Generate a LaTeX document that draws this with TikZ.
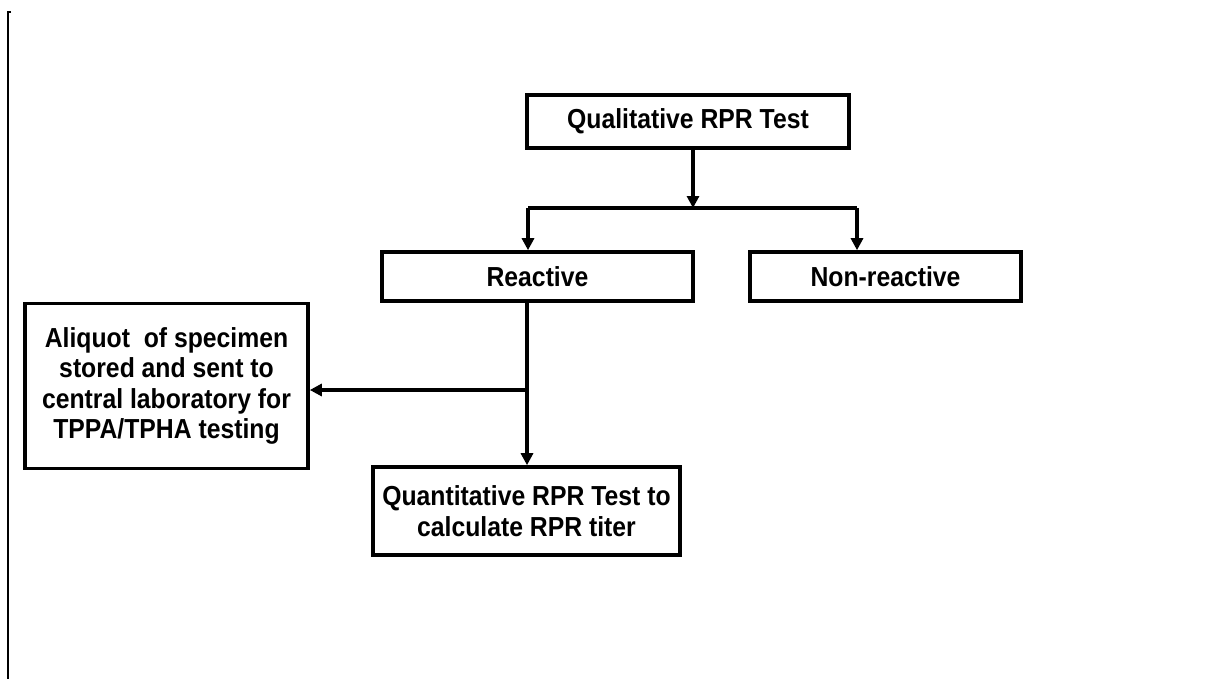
\documentclass[tikz,border=0pt]{standalone}
\usepackage{fontspec}
\setmainfont{Liberation Sans}[FakeStretch=0.9]
\usetikzlibrary{arrows.meta}
\tikzset{
  flowbox/.style={draw=black, line width=3.6pt, rectangle, inner sep=0pt,
    align=center, font=\bfseries\fontsize{27.5}{30.5}\selectfont},
  link/.style={line width=3.2pt, draw=black},
  arrowlink/.style={link, -{Triangle[length=12pt,width=12pt]}}
}
\begin{document}
\begin{tikzpicture}[x=1pt,y=-1pt]
  \useasboundingbox (0,0) rectangle (1217,679);
  \fill[white] (0,0) rectangle (1217,679);
  % page margin rule on the left
  \coordinate (ruletop) at (8,12);
  \coordinate (rulebot) at (8,679);
  \draw[line width=1.6pt] (11,12) -- (ruletop) -- (rulebot);

  % boxes
  \node[flowbox, minimum width=322pt, minimum height=53pt] (qual) at (688,121.5) {Qualitative RPR Test};
  \node[flowbox, minimum width=311pt, minimum height=49pt] (react) at (537.5,276.5) {Reactive};
  \node[flowbox, minimum width=271pt, minimum height=49pt] (nonr) at (885.5,276.5) {Non-reactive};
  \node[flowbox, minimum width=283pt, minimum height=165pt] (aliq) at (166.5,386)
    {Aliquot\ \ of specimen\\stored and\ sent to\\central laboratory for\\TPPA/TPHA testing};
  \node[flowbox, minimum width=307pt, minimum height=88pt] (quant) at (526.5,511)
    {Quantitative RPR Test to\\calculate RPR titer};

  % split below the first test
  \coordinate (qdown) at (693,148);
  \coordinate (split) at (693,208);
  \coordinate (splitL) at (528,208);
  \coordinate (splitR) at (857,208);
  \draw[arrowlink] (qdown) -- (split);
  \draw[link] (splitL) -- (splitR);
  \draw[arrowlink] (splitL) -- (splitL |- react.north);
  \draw[arrowlink] (splitR) -- (splitR |- nonr.north);

  % reactive branch
  \coordinate (rdown) at (527,301);
  \coordinate (tee) at (527,390);
  \draw[arrowlink] (rdown) -- (rdown |- quant.north);
  \draw[arrowlink] (tee) -- (aliq.east |- tee);
\end{tikzpicture}
\end{document}
